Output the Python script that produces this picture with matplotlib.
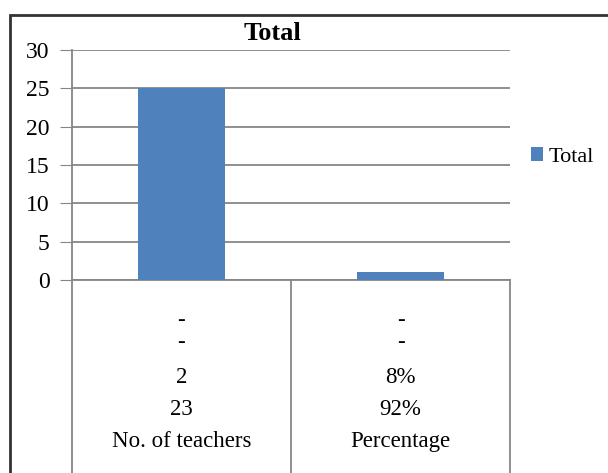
import matplotlib
matplotlib.use("Agg")
import matplotlib.pyplot as plt
from matplotlib.patches import Rectangle

# data
categories = ["No. of teachers", "Percentage"]
totals = [25, 1]
row_a = ["23", "92%"]
row_b = ["2", "8%"]
row_c = ["-", "-"]
row_d = ["-", "-"]

plt.rcParams["font.family"] = ["Liberation Serif", "DejaVu Serif"]
grid_col = "#868686"
bar_col = "#4F81BD"

fig = plt.figure(figsize=(6.08, 4.73), dpi=100)
ax = fig.add_axes([72 / 608, 193 / 473, 438 / 608, 230 / 473])

x = list(range(len(categories)))
ax.bar(x, totals, width=0.4, color=bar_col, label="Total", zorder=3)

ax.set_xlim(-0.5, len(categories) - 0.5)
ax.set_ylim(0, 30)
ax.set_yticks(range(0, 31, 5))
ax.tick_params(axis="y", length=9, color=grid_col, labelsize=17, pad=7)
ax.set_xticks([])
ax.grid(axis="y", color=grid_col, linewidth=1.3, zorder=0)
for s in ["top", "right"]:
    ax.spines[s].set_visible(False)
for s in ["left", "bottom"]:
    ax.spines[s].set_color(grid_col)
    ax.spines[s].set_linewidth(1.3)

fig.text(272 / 608, 1 - 33 / 473, "Total", fontsize=19, fontweight="bold",
         ha="center", va="center")

# category table below the axis
tr = ax.get_xaxis_transform()
for xv in [-0.5, 0.5, 1.5]:
    ax.plot([xv, xv], [0, -0.9], color=grid_col, linewidth=1.3,
            transform=tr, clip_on=False)
rows = [(row_d, -0.174), (row_c, -0.27), (row_b, -0.426),
        (row_a, -0.565), (categories, -0.704)]
for labels, yy in rows:
    for xi, lab in zip(x, labels):
        ax.text(xi, yy, lab, transform=tr, ha="center", va="center", fontsize=16.5)

leg = fig.legend(loc="center left", bbox_to_anchor=(522 / 608, 1 - 157 / 473),
                 frameon=False, fontsize=16, handlelength=0.55, handleheight=0.55,
                 handletextpad=0.25, borderaxespad=0)

# outer frame
fig.patches.append(Rectangle((10 / 608, -0.1), 1.2, 1.1 - 15 / 473,
                             transform=fig.transFigure, fill=False,
                             edgecolor="#333333", linewidth=2))

fig.savefig("out.png", dpi=100)
